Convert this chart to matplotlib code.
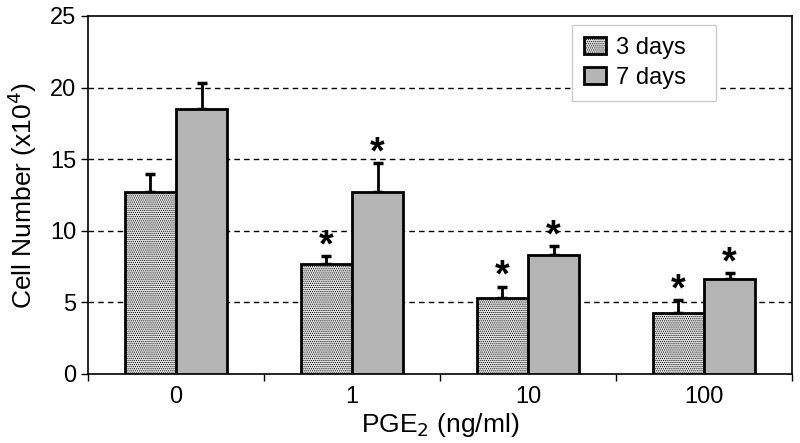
import matplotlib
matplotlib.use("Agg")
import matplotlib.pyplot as plt
import numpy as np

doses = ["0", "1", "10", "100"]
days3 = [12.7, 7.65, 5.3, 4.25]
days3_err = [1.25, 0.55, 0.8, 0.88]
days7 = [18.5, 12.7, 8.3, 6.6]
days7_err = [1.8, 2.0, 0.63, 0.43]
sig3 = [False, True, True, True]
sig7 = [False, True, True, True]

plt.rcParams["font.family"] = ["Liberation Sans", "DejaVu Sans"]
plt.rcParams["hatch.color"] = "#a8a8a8"
plt.rcParams["hatch.linewidth"] = 0.5

fig = plt.figure(figsize=(8, 4.43), dpi=100)
ax = fig.add_axes([0.11, 0.156, 0.88, 0.808])

x = np.arange(len(doses))
w = 0.29

ax.bar(x - w / 2, days3, w, facecolor="#e0e0e0", edgecolor="black",
       linewidth=2, hatch="........", label="3 days", zorder=3)
ax.bar(x + w / 2, days7, w, facecolor="#b4b4b4", edgecolor="black",
       linewidth=2, label="7 days", zorder=3)

ax.errorbar(x - w / 2, days3, yerr=[np.zeros(4), days3_err], fmt="none",
            ecolor="black", elinewidth=2, capsize=3.5, capthick=2.5, zorder=2)
ax.errorbar(x + w / 2, days7, yerr=[np.zeros(4), days7_err], fmt="none",
            ecolor="black", elinewidth=2, capsize=3.5, capthick=2.5, zorder=2)

# significance stars above the error bars
for xs, vals, errs, sig in [(x - w / 2, days3, days3_err, sig3),
                            (x + w / 2, days7, days7_err, sig7)]:
    for xi, v, e, s in zip(xs, vals, errs, sig):
        if s:
            ax.annotate("*", (xi, v + e), xytext=(0, 0),
                        textcoords="offset points", ha="center",
                        va="baseline", fontsize=27, fontweight="bold")

ax.set_xlim(-0.5, 3.5)
ax.set_ylim(0, 25)
ax.set_yticks([0, 5, 10, 15, 20, 25])
ax.set_xticks(x)
ax.set_xticklabels(doses)
ax.set_xticks(np.arange(-0.5, 4, 1), minor=True)
ax.tick_params(axis="x", which="major", length=0, labelsize=17, pad=9)
ax.tick_params(axis="x", which="minor", length=5, width=1, direction="out")
ax.tick_params(axis="y", length=5, width=1, direction="out", labelsize=17)

for yv in [5, 10, 15, 20]:
    ax.axhline(yv, color="black", linestyle=(0, (4, 3)), linewidth=1, zorder=1)

for sp in ax.spines.values():
    sp.set_linewidth(1.2)

ax.set_ylabel("Cell Number (x10$^4$)", fontsize=19, labelpad=8)
ax.set_xlabel("PGE$_2$ (ng/ml)", fontsize=19, labelpad=2)

leg = ax.legend(loc="upper left", bbox_to_anchor=(0.6875, 0.0, 0.2045, 0.975),
                mode="expand", borderaxespad=0, fontsize=17,
                fancybox=False, framealpha=1, edgecolor="#cccccc",
                handlelength=0.95, handleheight=0.75, handletextpad=0.4,
                borderpad=0.5, labelspacing=0.35)
leg.set_zorder(5)

fig.savefig("out.png", dpi=100)
